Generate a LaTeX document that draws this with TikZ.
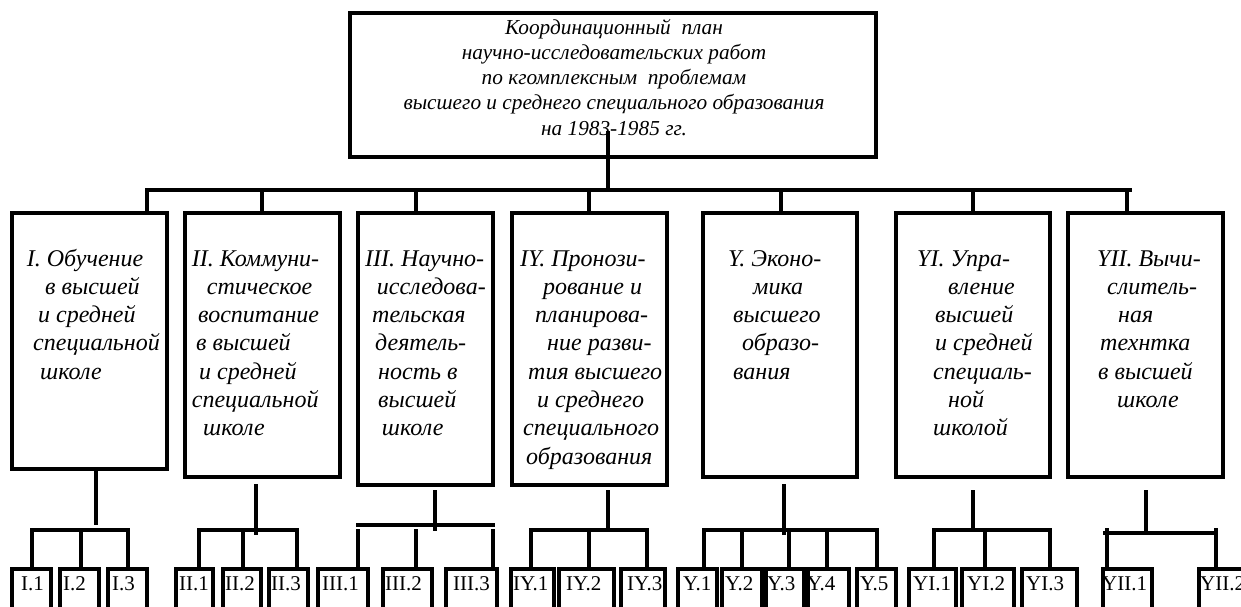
\documentclass[tikz,border=0pt]{standalone}
\usepackage{fontspec}
\setmainfont{Liberation Serif}
\begin{document}
\begin{tikzpicture}[x=1pt,y=-1pt,
  frame/.style={draw, line width=3.2pt, rectangle, inner sep=0pt, outer sep=0pt},
  wire/.style={line width=3.2pt, line cap=rect},
  txt/.style={font=\fontsize{24}{28.3}\selectfont\itshape, inner sep=0pt, anchor=base west},
  ttxt/.style={font=\fontsize{21.3}{25.3}\selectfont\itshape, inner sep=0pt, anchor=base},
  lab/.style={font=\fontsize{21}{25}\selectfont, inner sep=0pt, anchor=base west}]
\useasboundingbox (0,0) rectangle (1241,606);
\clip (0,0) rectangle (1241,606);

% title box
\node[frame, anchor=north west, minimum width=526pt, minimum height=144pt] (top) at (350,13) {};
\foreach \t [count=\k] in {{Координационный\ \ план},{научно-исследовательских работ},{по кгомплексным\ \ проблемам},{высшего и среднего специального образования},{на 1983-1985 гг.}}
  \node[ttxt] (h\k) at (614,{34+25.3*(\k-1)}) {\t};

% main boxes
\node[frame, anchor=north west, minimum width=155pt, minimum height=256pt] (b1) at (12,213) {};
\node[frame, anchor=north west, minimum width=155pt, minimum height=264pt] (b2) at (185,213) {};
\node[frame, anchor=north west, minimum width=135pt, minimum height=272pt] (b3) at (358,213) {};
\node[frame, anchor=north west, minimum width=155pt, minimum height=272pt] (b4) at (512,213) {};
\node[frame, anchor=north west, minimum width=154pt, minimum height=264pt] (b5) at (703,213) {};
\node[frame, anchor=north west, minimum width=154pt, minimum height=264pt] (b6) at (896,213) {};
\node[frame, anchor=north west, minimum width=155pt, minimum height=264pt] (b7) at (1068,213) {};

\foreach \x/\t [count=\k] in {26.7/{I. Обучение},45/{в высшей},38/{и средней},33/{специальной},40/{школе}}
  \node[txt] (b1t\k) at (\x,{266+28.3*(\k-1)}) {\t};
\foreach \x/\t [count=\k] in {191.7/{II. Коммуни-},206.7/{стическое},198/{воспитание},196/{в высшей},199/{и средней},191.7/{специальной},203/{школе}}
  \node[txt] (b2t\k) at (\x,{266+28.3*(\k-1)}) {\t};
\foreach \x/\t [count=\k] in {365/{III. Научно-},376.7/{исследова-},372/{тельская},375/{деятель-},378/{ность в},378/{высшей},381.7/{школе}}
  \node[txt] (b3t\k) at (\x,{266+28.3*(\k-1)}) {\t};
\foreach \x/\t [count=\k] in {520/{IY. Пронози-},543/{рование и},535/{планирова-},547/{ние разви-},528/{тия высшего},537/{и среднего},523/{специального},526/{образования}}
  \node[txt] (b4t\k) at (\x,{266+28.3*(\k-1)}) {\t};
\foreach \x/\t [count=\k] in {728/{Y. Эконо-},753/{мика},733/{высшего},742/{образо-},733/{вания}}
  \node[txt] (b5t\k) at (\x,{266+28.3*(\k-1)}) {\t};
\foreach \x/\t [count=\k] in {917/{YI. Упра-},948/{вление},935/{высшей},935/{и средней},933/{специаль-},948/{ной},933/{школой}}
  \node[txt] (b6t\k) at (\x,{266+28.3*(\k-1)}) {\t};
\foreach \x/\t [count=\k] in {1097/{YII. Вычи-},1107/{слитель-},1118/{ная},1100/{технтка},1098/{в высшей},1117/{школе}}
  \node[txt] (b7t\k) at (\x,{266+28.3*(\k-1)}) {\t};

% sub boxes
\foreach \l/\r/\p/\t [count=\k] in {
  12/51/21/I.1, 60/99/63/I.2, 108/147/112/I.3,
  176/213/179/II.1, 223/261/225/II.2, 269/308/271/II.3,
  318/368/322/III.1, 383/432/385/III.2, 446/497/453/III.3,
  511/554/513/IY.1, 559/614/566/IY.2, 621/665/627/IY.3,
  678/717/683/Y.1, 722/762/725/Y.2, 766/804/767/Y.3, 808/849/807/Y.4, 857/896/860/Y.5,
  909/956/913/YI.1, 962/1014/967/YI.2, 1022/1077/1026/YI.3,
  1103/1152/1102/YII.1, 1199/1250/1200/YII.2}
{
  \node[frame, anchor=north west, minimum width={\r-\l}, minimum height=60pt] (s\k) at (\l,569) {};
  \node[lab] (sl\k) at (\p,590) {\t};
}

% top connectors
\coordinate (tc) at (608,133);
\coordinate (busM) at (608,190);
\coordinate (busL) at (147,190);
\coordinate (busR) at (1130,190);
\draw[wire] (tc) -- (busM);
\draw[wire] (busL) -- (busR);
\foreach \x/\b in {147/b1, 262/b2, 416/b3, 589/b4, 781/b5, 973/b6, 1127/b7}
  \draw[wire] (\x,190) -- (\b.north -| \x,0);

% group I
\draw[wire] (b1.south -| 96,0) -- (96,523);
\draw[wire] (32,530) -- (128,530);
\foreach \x/\s in {32/s1, 81/s2, 128/s3} \draw[wire] (\x,530) -- (\s.north -| \x,0);
% group II
\draw[wire] (256,486) -- (256,533);
\draw[wire] (199,530) -- (297,530);
\foreach \x/\s in {199/s4, 243/s5, 297/s6} \draw[wire] (\x,530) -- (\s.north -| \x,0);
% group III
\draw[wire] (435,492) -- (435,529);
\draw[wire] (358,525) -- (493,525);
\foreach \x/\s in {358/s7, 416/s8, 493/s9} \draw[wire] (\x,531) -- (\s.north -| \x,0);
% group IV
\draw[wire] (608,492) -- (608,530);
\draw[wire] (531,530) -- (647,530);
\foreach \x/\s in {531/s10, 589/s11, 647/s12} \draw[wire] (\x,530) -- (\s.north -| \x,0);
% group V
\draw[wire] (784,486) -- (784,533);
\draw[wire] (704,530) -- (877,530);
\foreach \x/\s in {704/s13, 742/s14, 789/s15, 827/s16, 877/s17} \draw[wire] (\x,530) -- (\s.north -| \x,0);
% group VI
\draw[wire] (973,492) -- (973,530);
\draw[wire] (934,530) -- (1050,530);
\foreach \x/\s in {934/s18, 985/s19, 1050/s20} \draw[wire] (\x,530) -- (\s.north -| \x,0);
% group VII
\draw[wire] (1146,492) -- (1146,529);
\draw[wire] (1105,533) -- (1212,533);
\foreach \x/\s in {1107/s21, 1216/s22} \draw[wire] (\x,530) -- (\s.north -| \x,0);
\end{tikzpicture}
\end{document}
